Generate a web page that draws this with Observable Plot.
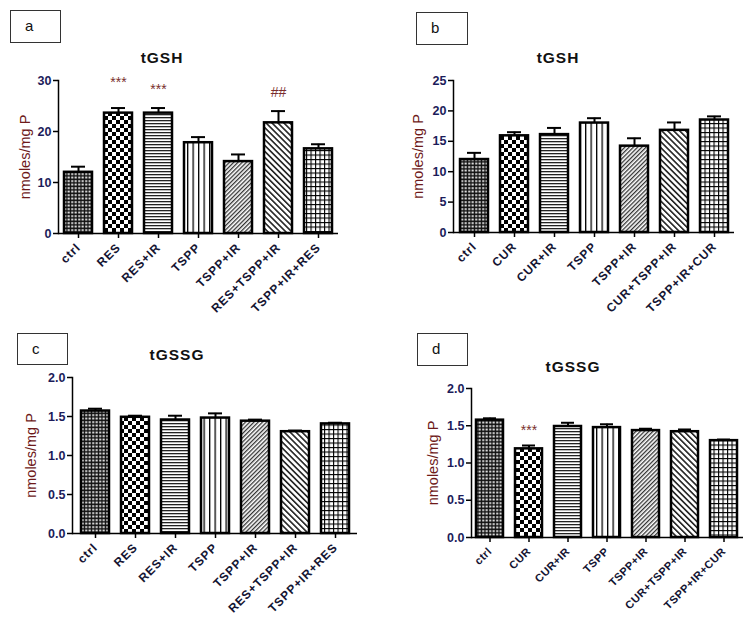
<!DOCTYPE html>
<html>
<head>
<meta charset="utf-8">
<script src="https://cdn.jsdelivr.net/npm/d3@7"></script>
<script src="https://cdn.jsdelivr.net/npm/@observablehq/plot@0.6"></script>
<style>
  html, body { margin: 0; padding: 0; background: #fff; }
  #wrap { position: relative; width: 753px; height: 618px; background: #fff; font-family: "Liberation Sans", Arial, sans-serif; overflow: hidden; }
  .panel { position: absolute; }
  .box { position: absolute; border: 1.5px solid #333; box-sizing: border-box; background: #fff; }
  .box span { position: absolute; font-size: 15px; color: #111; }
  .title { position: absolute; transform: translate(-50%, -50%); font-size: 15.5px; font-weight: bold; letter-spacing: 1px; color: #111; white-space: nowrap; }
  .xt text { letter-spacing: 0.9px; }
  .xtd text { letter-spacing: 0.5px; }
</style>
</head>
<body>
<svg width="0" height="0" style="position:absolute">
  <defs>
    <pattern id="p0" width="3.5" height="3.5" patternUnits="userSpaceOnUse">
      <rect width="3.5" height="3.5" fill="#111"/><rect x="1.2" y="1.2" width="2" height="1.8" fill="#fff"/>
    </pattern>
    <pattern id="p1" width="8" height="8" patternUnits="userSpaceOnUse">
      <rect width="8" height="8" fill="#fff"/><rect width="4" height="4" fill="#000"/><rect x="4" y="4" width="4" height="4" fill="#000"/>
    </pattern>
    <pattern id="p2" width="4" height="3" patternUnits="userSpaceOnUse">
      <rect width="4" height="3" fill="#fff"/><rect width="4" height="1.3" fill="#222"/>
    </pattern>
    <pattern id="p3" width="5.5" height="4" patternUnits="userSpaceOnUse">
      <rect width="5.5" height="4" fill="#fff"/><rect width="1.3" height="4" fill="#000"/>
    </pattern>
    <pattern id="p4" width="3" height="3" patternUnits="userSpaceOnUse" patternTransform="rotate(45)">
      <rect width="3" height="3" fill="#fff"/><rect width="1.3" height="3" fill="#333"/>
    </pattern>
    <pattern id="p5" width="4.2" height="4.2" patternUnits="userSpaceOnUse" patternTransform="rotate(-45)">
      <rect width="4.2" height="4.2" fill="#fff"/><rect width="1.6" height="4.2" fill="#222"/>
    </pattern>
    <pattern id="p6" width="4.5" height="4.5" patternUnits="userSpaceOnUse">
      <rect width="4.5" height="4.5" fill="#fff"/><rect width="1.1" height="4.5" fill="#000"/><rect width="4.5" height="1.1" fill="#000"/>
    </pattern>
  </defs>
</svg>
<div id="wrap">
  <div class="box" style="left:10px;top:10px;width:51px;height:33px"><span style="left:14px;top:6px">a</span></div>
  <div class="box" style="left:416px;top:12px;width:52px;height:33px"><span style="left:14px;top:6px">b</span></div>
  <div class="box" style="left:17px;top:333px;width:51px;height:32px"><span style="left:14px;top:6px">c</span></div>
  <div class="box" style="left:417px;top:333px;width:51px;height:33px"><span style="left:14px;top:6px">d</span></div>
  <div class="title" style="left:162px;top:58px">tGSH</div>
  <div class="title" style="left:558px;top:58px">tGSH</div>
  <div class="title" style="left:177px;top:355px">tGSSG</div>
  <div class="title" style="left:573px;top:367px">tGSSG</div>
  <div class="panel" id="pa" style="left:0px;top:60px"></div>
  <div class="panel" id="pb" style="left:376px;top:60px"></div>
  <div class="panel" id="pc" style="left:0px;top:357px"></div>
  <div class="panel" id="pd" style="left:376px;top:368px"></div>
</div>
<script>
// ---- data ----
const groupsRES = ["ctrl", "RES", "RES+IR", "TSPP", "TSPP+IR", "RES+TSPP+IR", "TSPP+IR+RES"];
const groupsCUR = ["ctrl", "CUR", "CUR+IR", "TSPP", "TSPP+IR", "CUR+TSPP+IR", "TSPP+IR+CUR"];

const gshRES = [12.0, 23.6, 23.6, 17.8, 14.1, 21.7, 16.6];
const gshRESerr = [1.1, 1.0, 1.0, 1.1, 1.4, 2.3, 0.9];
const gshCUR = [12.0, 15.9, 16.1, 18.0, 14.2, 16.8, 18.5];
const gshCURerr = [1.1, 0.6, 1.1, 0.8, 1.3, 1.3, 0.6];
const gssgRES = [1.57, 1.49, 1.455, 1.48, 1.44, 1.305, 1.405];
const gssgRESerr = [0.03, 0.02, 0.055, 0.06, 0.02, 0.015, 0.015];
const gssgCUR = [1.575, 1.19, 1.49, 1.475, 1.435, 1.42, 1.30];
const gssgCURerr = [0.025, 0.045, 0.05, 0.045, 0.025, 0.03, 0.015];

const sigA = [{key: "RES", y: 29.6, t: "***"}, {key: "RES+IR", y: 28.2, t: "***"}, {key: "RES+TSPP+IR", y: 27.6, t: "##"}];
const sigD = [{key: "CUR", y: 1.43, t: "***"}];

const ticksA = [0, 10, 20, 30];
const ticksB = [0, 5, 10, 15, 20, 25];
const ticksCD = [0, 0.5, 1.0, 1.5, 2.0];

const patterns = ["url(#p0)", "url(#p1)", "url(#p2)", "url(#p3)", "url(#p4)", "url(#p5)", "url(#p6)"];
const yLabel = "nmoles/mg P";

function panel({keys, vals, errs, sig, ymax, ticks, fmt, width, height, ml, mr, mt, mb, labelDx, xFont, xClass}) {
  const data = keys.map((k, i) => ({key: k, v: vals[i], e: errs[i]}));
  return Plot.plot({
    width, height,
    marginLeft: ml, marginRight: mr, marginTop: mt, marginBottom: mb,
    style: {fontFamily: "Liberation Sans, Arial, sans-serif", fontSize: "12px", fontWeight: "bold", background: "transparent", overflow: "visible"},
    x: {domain: keys, paddingInner: 0.3, paddingOuter: 0.13, label: null},
    y: {domain: [0, ymax], label: null},
    color: {domain: keys, range: patterns},
    marks: [
      Plot.barY(data, {x: "key", y: "v", fill: "key", stroke: "#000", strokeWidth: 2.5}),
      Plot.ruleX(data, {x: "key", y1: "v", y2: d => d.v + d.e, stroke: "#000", strokeWidth: 2}),
      Plot.tickY(data, {x: "key", y: d => d.v + d.e, stroke: "#000", strokeWidth: 2, insetLeft: 7, insetRight: 7}),
      Plot.text(sig, {x: "key", y: "y", text: "t", fill: "#7a2e2e", fontSize: 14, fontWeight: "normal"}),
      Plot.ruleY([0], {stroke: "#000", strokeWidth: 1.5}),
      Plot.frame({anchor: "left", stroke: "#000", strokeWidth: 1.5}),
      Plot.axisY({ticks, tickFormat: fmt, tickSize: 5, tickPadding: 2, stroke: "#000", strokeWidth: 1.5, fill: "#1c1c5a", fontSize: 12.5, label: null}),
      Plot.axisX({tickSize: 5, tickRotate: -45, tickPadding: 7, stroke: "#000", strokeWidth: 1.5, fill: "#141432", fontSize: xFont, label: null, className: xClass}),
      Plot.text([yLabel], {frameAnchor: "left", textAnchor: "middle", rotate: -90, dx: labelDx, fill: "#6e1a1a", fontSize: 14.5, fontWeight: "normal"})
    ]
  });
}

const fmtInt = d3.format("d");
const fmt1 = d3.format(".1f");

document.getElementById("pa").append(panel({keys: groupsRES, vals: gshRES, errs: gshRESerr, sig: sigA, ymax: 30, ticks: ticksA, fmt: fmtInt,
  width: 376, height: 260, ml: 58, mr: 38, mt: 20, mb: 87, labelDx: -33, xFont: 12, xClass: "xt"}));
document.getElementById("pb").append(panel({keys: groupsCUR, vals: gshCUR, errs: gshCURerr, sig: [], ymax: 25, ticks: ticksB, fmt: fmtInt,
  width: 377, height: 260, ml: 77, mr: 19, mt: 20, mb: 88, labelDx: -35, xFont: 12, xClass: "xt"}));
document.getElementById("pc").append(panel({keys: groupsRES, vals: gssgRES, errs: gssgRESerr, sig: [], ymax: 2, ticks: ticksCD, fmt: fmt1,
  width: 376, height: 261, ml: 72, mr: 19, mt: 20, mb: 85, labelDx: -41, xFont: 12, xClass: "xt"}));
document.getElementById("pd").append(panel({keys: groupsCUR, vals: gssgCUR, errs: gssgCURerr, sig: sigD, ymax: 2, ticks: ticksCD, fmt: fmt1,
  width: 377, height: 250, ml: 95, mr: 10, mt: 20, mb: 81, labelDx: -38, xFont: 11, xClass: "xtd"}));
</script>
</body>
</html>
